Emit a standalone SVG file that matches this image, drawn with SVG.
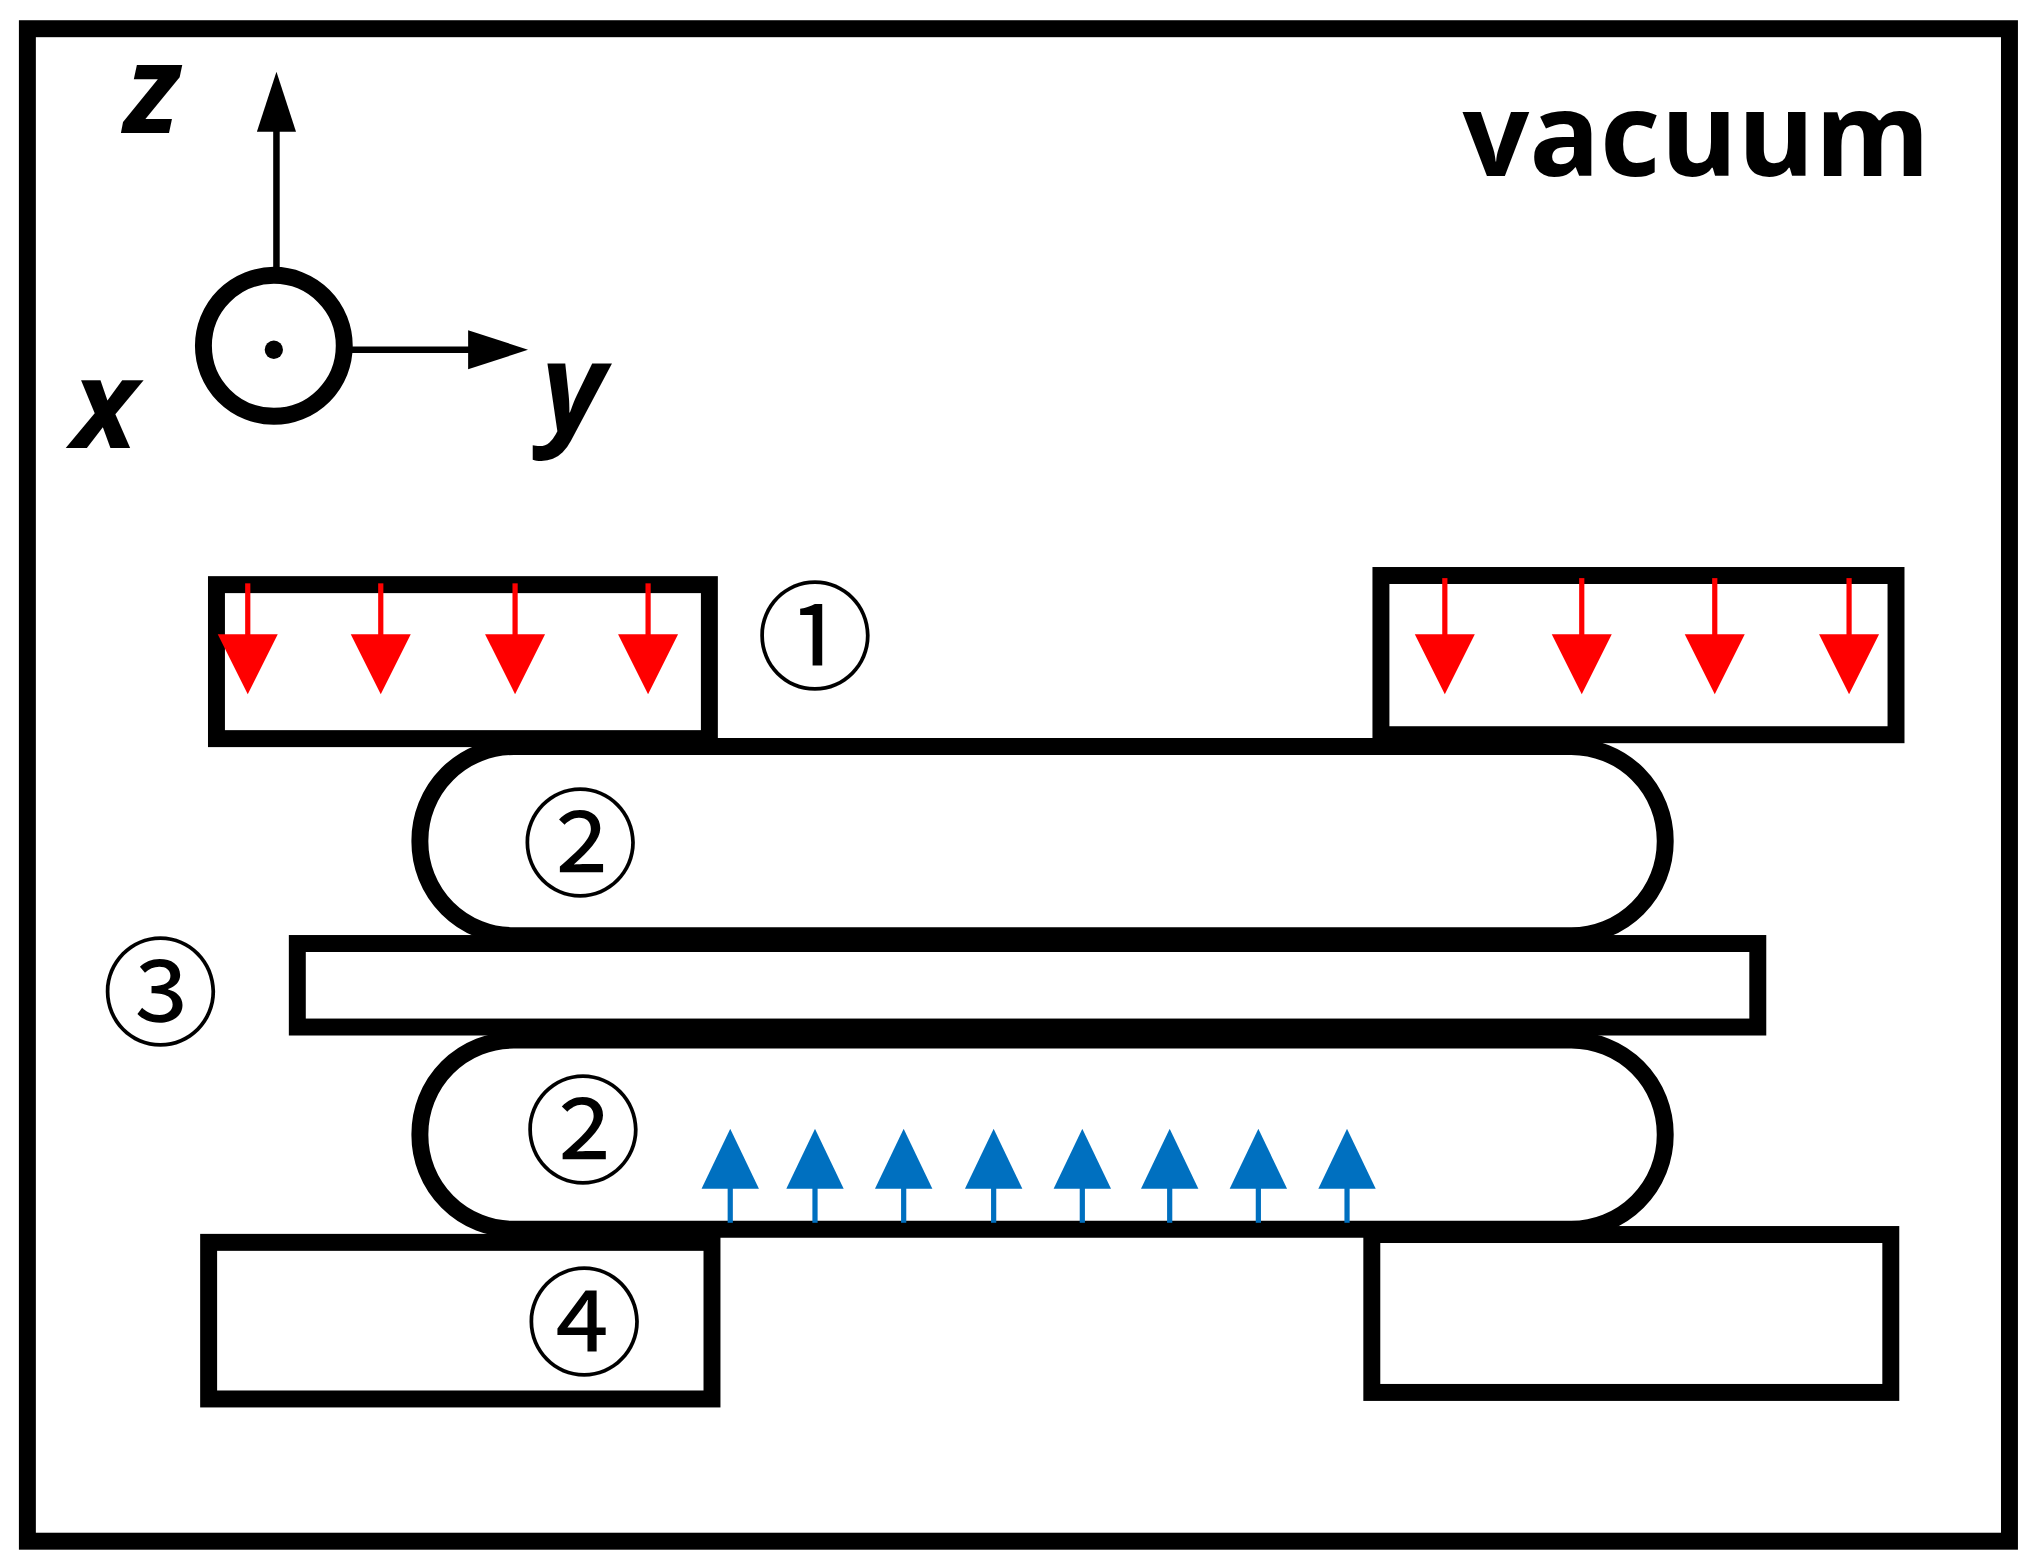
<svg xmlns="http://www.w3.org/2000/svg" width="2042" height="1566" viewBox="0 0 2042 1566">
<style>
.k{fill:none;stroke:#000;stroke-width:13}
.ax{fill:none;stroke:#000;stroke-width:5}
.r{stroke:#f00;stroke-width:4}
.b{stroke:#0070c0;stroke-width:4}
.lab{font-family:"Noto Sans CJK JP","DejaVu Serif",serif;font-size:90px;text-anchor:middle}
.axl{font-family:"Open Sans","Liberation Sans",Arial,sans-serif;font-weight:bold;font-style:italic;font-size:95px}
</style>
<defs>
<marker id="ra" markerUnits="userSpaceOnUse" markerWidth="48" markerHeight="48" refX="36" refY="24" orient="auto"><path d="M0,1 L46,24 L0,47 Z" fill="#f00"/></marker>
<marker id="ba" markerUnits="userSpaceOnUse" markerWidth="46" markerHeight="46" refX="36" refY="23" orient="auto"><path d="M0,1 L46,23 L0,45 Z" fill="#0070c0"/></marker>
<marker id="ka" markerUnits="userSpaceOnUse" markerWidth="46" markerHeight="34" refX="36" refY="17" orient="auto"><path d="M0,2 L46,17 L0,32 Z" fill="#000"/></marker>
</defs>
<rect width="2042" height="1566" fill="#fff"/>
<g transform="scale(1.304,1.305)">
<rect x="21" y="22" width="1520" height="1159" class="k" stroke-width="14"/>
<g id="axes">
<line x1="212" y1="205" x2="212" y2="65" class="ax" marker-end="url(#ka)"/>
<line x1="268" y1="268" x2="395" y2="268" class="ax" marker-end="url(#ka)"/>
<circle cx="210" cy="265" r="54" class="k"/>
<circle cx="210" cy="268" r="7" fill="#000"/>
<text x="95" y="102" class="axl">z</text>
<text x="55" y="343" class="axl">x</text>
<text x="415" y="330" class="axl">y</text>
</g>
<text x="1480" y="135" font-family="Open Sans,Liberation Sans,Arial,sans-serif" font-weight="bold" font-size="90" text-anchor="end">vacuum</text>
<g id="magnet-top-left"><rect x="166" y="448" width="378" height="118" class="k" stroke-width="11"/></g>
<g id="magnet-top-right"><rect x="1059" y="441" width="395" height="122" class="k" stroke-width="11"/></g>
<g id="pill-top"><rect x="322" y="572" width="955" height="145" rx="72" class="k" stroke-width="14"/></g>
<g id="plate"><rect x="228" y="723" width="1120" height="64" class="k" stroke-width="14"/></g>
<g id="pill-bottom"><rect x="322" y="797" width="955" height="145" rx="72" class="k" stroke-width="14"/></g>
<g id="block-bottom-left"><rect x="160" y="952" width="386" height="120" class="k" stroke-width="9"/></g>
<g id="block-bottom-right"><rect x="1052" y="946" width="398" height="121" class="k" stroke-width="9"/></g>
<g id="labels">
<text x="625" y="521" class="lab">①</text>
<text x="445" y="680" class="lab">②</text>
<text x="123" y="794" class="lab">③</text>
<text x="447" y="900" class="lab">②</text>
<text x="448" y="1047" class="lab">④</text>
</g>
<g id="connectors">
<line x1="190" y1="447" x2="190" y2="522" class="r" marker-end="url(#ra)"/>
<line x1="292" y1="447" x2="292" y2="522" class="r" marker-end="url(#ra)"/>
<line x1="395" y1="447" x2="395" y2="522" class="r" marker-end="url(#ra)"/>
<line x1="497" y1="447" x2="497" y2="522" class="r" marker-end="url(#ra)"/>
<line x1="1108" y1="443" x2="1108" y2="522" class="r" marker-end="url(#ra)"/>
<line x1="1213" y1="443" x2="1213" y2="522" class="r" marker-end="url(#ra)"/>
<line x1="1315" y1="443" x2="1315" y2="522" class="r" marker-end="url(#ra)"/>
<line x1="1418" y1="443" x2="1418" y2="522" class="r" marker-end="url(#ra)"/>
<line x1="560" y1="937" x2="560" y2="875" class="b" marker-end="url(#ba)"/>
<line x1="625" y1="937" x2="625" y2="875" class="b" marker-end="url(#ba)"/>
<line x1="693" y1="937" x2="693" y2="875" class="b" marker-end="url(#ba)"/>
<line x1="762" y1="937" x2="762" y2="875" class="b" marker-end="url(#ba)"/>
<line x1="830" y1="937" x2="830" y2="875" class="b" marker-end="url(#ba)"/>
<line x1="897" y1="937" x2="897" y2="875" class="b" marker-end="url(#ba)"/>
<line x1="965" y1="937" x2="965" y2="875" class="b" marker-end="url(#ba)"/>
<line x1="1033" y1="937" x2="1033" y2="875" class="b" marker-end="url(#ba)"/>
</g>
</g>
</svg>
